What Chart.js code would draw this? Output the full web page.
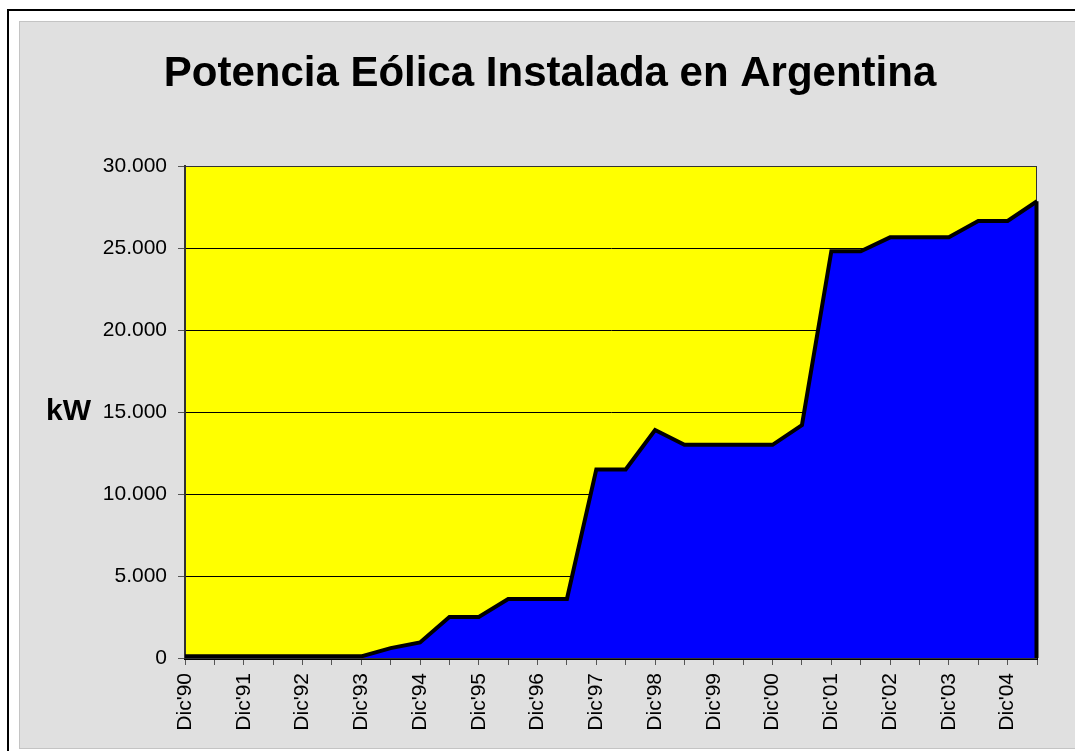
<!DOCTYPE html>
<html>
<head>
<meta charset="utf-8">
<title>Potencia Eólica Instalada en Argentina</title>
<script src="https://cdn.jsdelivr.net/npm/chart.js@4"></script>
<style>
	html, body { margin: 0; padding: 0; background: #fff; overflow: hidden; }
	#frame {
		position: absolute; left: 7px; top: 9px; width: 1100px; height: 800px;
		border: 2px solid #000; box-sizing: border-box;
	}
	#panel {
		position: absolute; left: 19px; top: 21px; width: 1100px; height: 728px;
		background: #e0e0e0; border: 1px solid #c4c4c4; box-sizing: border-box;
	}
	#chart { position: absolute; left: 0; top: 0; }
</style>
</head>
<body>
<div id="frame"></div>
<div id="panel"></div>
<canvas id="chart" width="1075" height="751"></canvas>
<script>
// half-year points, Dic'90 .. Jun'05
const periods = [
	"Dic'90", "Jun'91", "Dic'91", "Jun'92", "Dic'92", "Jun'93", "Dic'93", "Jun'94",
	"Dic'94", "Jun'95", "Dic'95", "Jun'96", "Dic'96", "Jun'97", "Dic'97", "Jun'98",
	"Dic'98", "Jun'99", "Dic'99", "Jun'00", "Dic'00", "Jun'01", "Dic'01", "Jun'02",
	"Dic'02", "Jun'03", "Dic'03", "Jun'04", "Dic'04", "Jun'05"
];
const installedKW = [
	100, 100, 100, 100, 100, 100, 100, 600,
	950, 2500, 2500, 3600, 3600, 3600, 11500, 11500,
	13900, 13000, 13000, 13000, 13000, 14200, 24800, 24800,
	25650, 25650, 25650, 26650, 26650, 27850
];
const yTicks = [0, 5000, 10000, 15000, 20000, 25000, 30000];

const FONT = "'Liberation Sans', Arial, sans-serif";

const fmt = (v) => String(v).replace(/\B(?=(\d{3})+(?!\d))/g, '.');

// yellow plot background + thin frame
const plotBox = {
	id: 'plotBox',
	beforeDraw(chart) {
		const { ctx, chartArea: { left, top, width, height } } = chart;
		ctx.save();
		ctx.fillStyle = '#ffff00';
		ctx.fillRect(left, top, width, height);
		ctx.restore();
	},
	beforeDatasetsDraw(chart) {
		const { ctx, chartArea: { left, top, width, height } } = chart;
		ctx.save();
		ctx.strokeStyle = '#333';
		ctx.lineWidth = 1;
		ctx.strokeRect(left + 0.5, top + 0.5, width - 1, height);
		ctx.restore();
	}
};

// close the area on the right side and put the "kW" label
const areaEdge = {
	id: 'areaEdge',
	afterDatasetsDraw(chart) {
		const { ctx, scales: { y } } = chart;
		const meta = chart.getDatasetMeta(0);
		const last = meta.data[meta.data.length - 1];
		ctx.save();
		ctx.strokeStyle = '#000';
		ctx.lineWidth = 4;
		ctx.beginPath();
		ctx.moveTo(last.x - 0.5, last.y);
		ctx.lineTo(last.x - 0.5, y.getPixelForValue(0));
		ctx.stroke();
		ctx.restore();
	},
	afterDraw(chart) {
		const { ctx, chartArea: { top, bottom } } = chart;
		ctx.save();
		ctx.font = 'bold 30px ' + FONT;
		ctx.fillStyle = '#000';
		ctx.textAlign = 'right';
		ctx.textBaseline = 'middle';
		ctx.fillText('kW', 91, (top + bottom) / 2);
		ctx.restore();
	}
};

new Chart(document.getElementById('chart'), {
	type: 'line',
	data: {
		labels: periods,
		datasets: [{
			label: 'kW',
			data: installedKW,
			fill: 'origin',
			backgroundColor: '#0000ff',
			borderColor: '#000',
			borderWidth: 4,
			pointRadius: 0,
			tension: 0
		}]
	},
	options: {
		responsive: false,
		animation: false,
		// left padding pushes the title to the middle of the panel
		layout: { padding: { left: 63, right: 38, top: 0, bottom: 0 } },
		plugins: {
			legend: { display: false },
			tooltip: { enabled: false },
			title: {
				display: true,
				text: 'Potencia Eólica Instalada en Argentina',
				color: '#000',
				font: { family: FONT, size: 42, weight: 'bold', lineHeight: 1.2 },
				padding: { top: 49, bottom: 66.6 }
			}
		},
		scales: {
			x: {
				type: 'category',
				offset: false,
				afterFit(scale) { scale.height = 93; },
				grid: { display: true, drawOnChartArea: false, tickLength: 7, tickColor: '#555' },
				border: { color: '#000', width: 3 },
				ticks: {
					autoSkip: false,
					minRotation: 90,
					maxRotation: 90,
					padding: 8,
					color: '#000',
					font: { family: FONT, size: 21 },
					callback: function (value, index) {
						const lbl = this.getLabelForValue(value);
						return lbl.startsWith('Dic') ? lbl : '';
					}
				}
			},
			y: {
				min: yTicks[0],
				max: yTicks[yTicks.length - 1],
				afterFit(scale) { scale.width = 122; },
				afterBuildTicks(scale) { scale.ticks = yTicks.map(v => ({ value: v })); },
				grid: { color: '#000', lineWidth: 1, tickLength: 7, tickColor: '#555' },
				border: { color: '#333', width: 2 },
				ticks: {
					padding: 11,
					color: '#000',
					font: { family: FONT, size: 21 },
					callback: (v) => fmt(v)
				}
			}
		}
	},
	plugins: [plotBox, areaEdge]
});
</script>
</body>
</html>
